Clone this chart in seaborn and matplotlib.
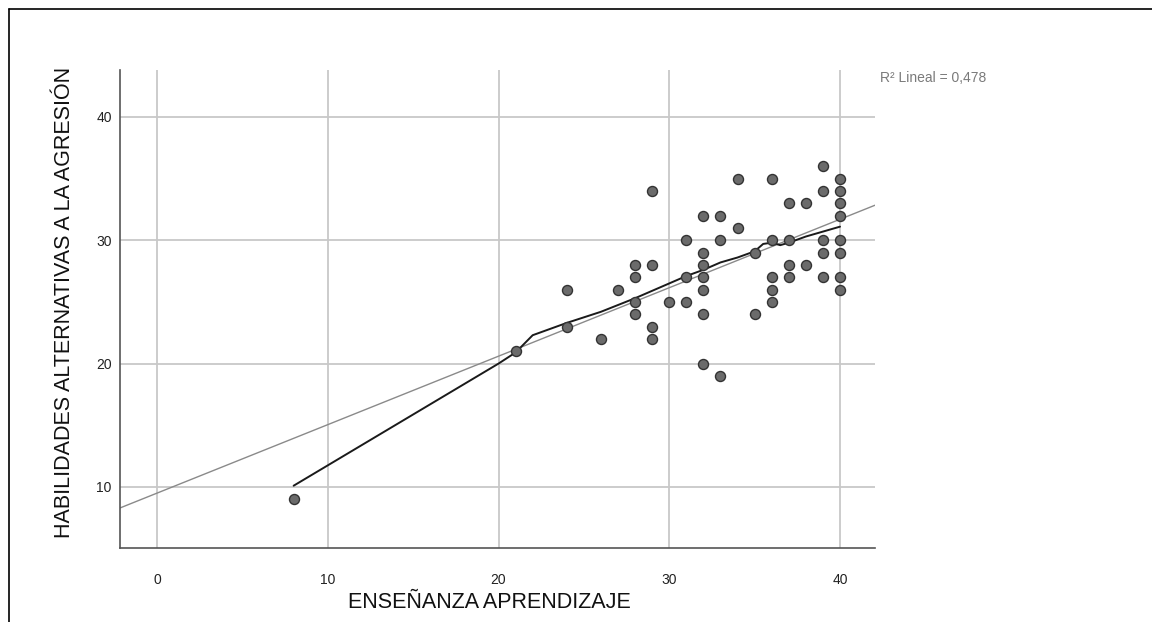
import numpy as np
import pandas as pd
import matplotlib
matplotlib.use("Agg")
import matplotlib.pyplot as plt
import seaborn as sns
from matplotlib.lines import Line2D

# ---- data ----
ens = [8, 21, 24, 24, 26, 27,
       28, 28, 28, 28,
       29, 29, 29, 29,
       30,
       31, 31, 31,
       32, 32, 32, 32, 32, 32, 32,
       33, 33, 33,
       34, 34,
       35, 35,
       36, 36, 36, 36, 36,
       37, 37, 37, 37,
       38, 38,
       39, 39, 39, 39, 39,
       40, 40, 40, 40, 40, 40, 40, 40]
hab = [9, 21, 26, 23, 22, 26,
       28, 27, 25, 24,
       34, 28, 23, 22,
       25,
       30, 27, 25,
       32, 29, 28, 27, 26, 24, 20,
       32, 30, 19,
       35, 31,
       29, 24,
       35, 30, 27, 26, 25,
       33, 30, 28, 27,
       33, 28,
       36, 34, 30, 29, 27,
       35, 34, 33, 32, 30, 29, 27, 26]

# loess (black) curve
loess_x = [8, 20, 21, 22, 24, 26, 28, 30, 31, 32, 33, 34, 35, 35.5, 36, 36.5, 37, 38, 39, 40]
loess_y = [10.1, 20.0, 20.9, 22.3, 23.3, 24.2, 25.3, 26.5, 27.1, 27.6, 28.2, 28.6, 29.1,
           29.7, 29.8, 29.6, 29.8, 30.3, 30.7, 31.1]

# linear fit line (R2 = 0.478)
fit_intercept = 9.5
fit_slope = 0.555
r2_label = "R² Lineal = 0,478"

x_ticks = [0, 10, 20, 30, 40]
y_ticks = [10, 20, 30, 40]

df = pd.DataFrame({"ENSEÑANZA APRENDIZAJE": ens, "HABILIDADES": hab})

sns.set_style("white")
plt.rcParams['font.family'] = ['Liberation Sans', 'DejaVu Sans']

fig = plt.figure(figsize=(11.52, 6.22), dpi=100)
ax = fig.add_axes([120/1152, 1 - 548/622, (875-120)/1152, (548-70)/622])

xlim = (-2.17, 42.05)
ylim = (5.05, 43.8)
ax.set_xlim(*xlim)
ax.set_ylim(*ylim)

ax.set_xticks(x_ticks)
ax.set_yticks(y_ticks)
ax.grid(True, color="#c8c8c8", linewidth=1.3)
ax.set_axisbelow(True)

# linear fit line across the full axis
fx = np.array(xlim)
ax.plot(fx, fit_intercept + fit_slope * fx, color="#8a8a8a", linewidth=1.0, zorder=2)

# loess curve
sns.lineplot(x=loess_x, y=loess_y, ax=ax, color="#1a1a1a", linewidth=1.4,
             sort=False, estimator=None, zorder=3)

# scatter points
sns.scatterplot(data=df, x="ENSEÑANZA APRENDIZAJE", y="HABILIDADES", ax=ax,
                s=52, color="#6b6b6b", edgecolor="#333333", linewidth=1.0, zorder=4)

for side in ["top", "right"]:
    ax.spines[side].set_visible(False)
for side in ["left", "bottom"]:
    ax.spines[side].set_color("#555555")
    ax.spines[side].set_linewidth(1.2)

ax.tick_params(axis="x", length=0, labelsize=10, colors="#222222", pad=18)
ax.tick_params(axis="y", length=0, labelsize=10, colors="#222222", pad=6)
ax.set_xlabel("ENSEÑANZA APRENDIZAJE", fontsize=15.5, color="#111111", va="center")
ax.set_ylabel("HABILIDADES ALTERNATIVAS A LA AGRESIÓN", fontsize=15.5, color="#111111", va="center")
ax.xaxis.set_label_coords((489 - 120) / 755, (548 - 603) / 478)
ax.yaxis.set_label_coords((65 - 120) / 755, (548 - 302) / 478)

fig.text(880/1152, 1 - 78/622, r2_label, fontsize=10, color="#7a7a7a", va="center", ha="left")

# outer frame (top and left edges of the cropped output)
fig.add_artist(Line2D([9/1152, 1.0], [1 - 9/622, 1 - 9/622], color="black", linewidth=1.2,
                      transform=fig.transFigure))
fig.add_artist(Line2D([9/1152, 9/1152], [0.0, 1 - 9/622], color="black", linewidth=1.2,
                      transform=fig.transFigure))

fig.savefig("out.png", dpi=100)
